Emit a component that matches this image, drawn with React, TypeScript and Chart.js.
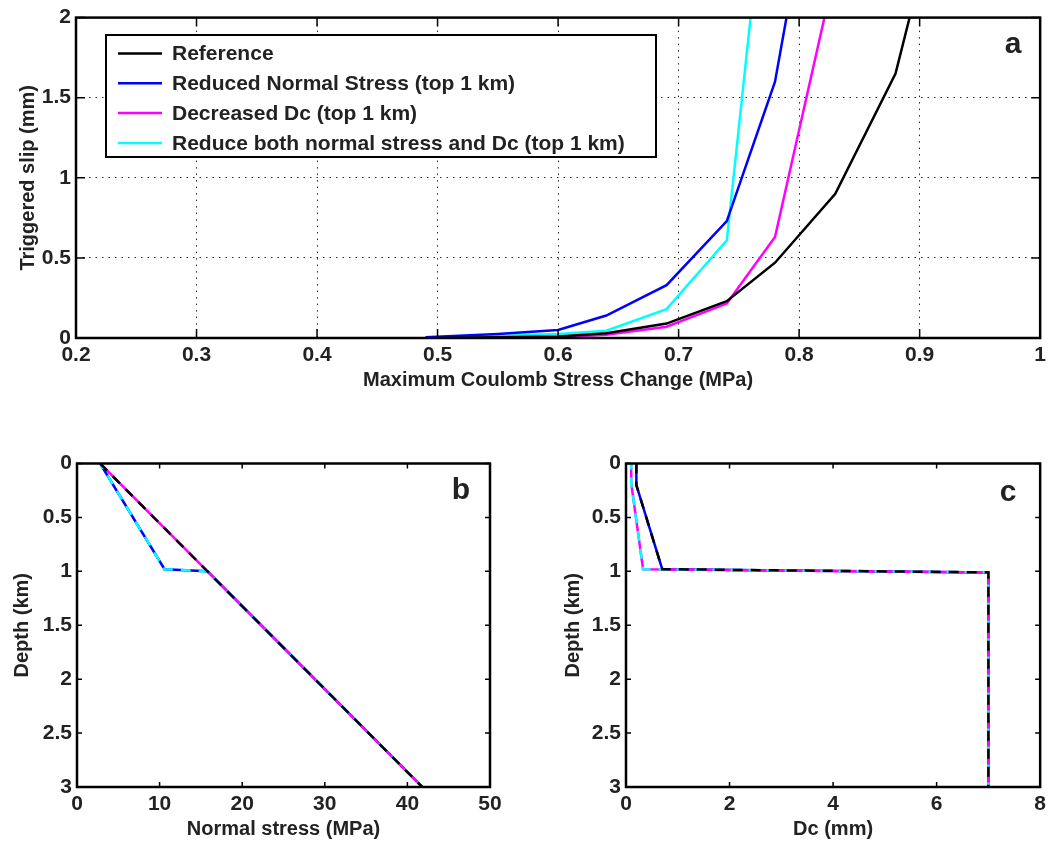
import React, { useEffect, useRef } from 'react';
import { Chart, registerables } from 'chart.js';

Chart.register(...registerables);

const FONT_FAMILY = '"Liberation Sans", Arial, Helvetica, sans-serif';
const TEXT_COLOR = '#222222';

// ---------- Series ----------
const seriesLabels = [
  'Reference',
  'Reduced Normal Stress (top 1 km)',
  'Decreased Dc (top 1 km)',
  'Reduce both normal stress and Dc (top 1 km)',
];
const seriesColors = ['#000000', '#0000ff', '#ff00ff', '#00ffff'];

// ---------- Panel a: triggered slip vs. maximum Coulomb stress change ----------
const refStressA = [0.5, 0.6, 0.64, 0.69, 0.74, 0.78, 0.83, 0.88, 0.9];
const refSlipA = [0, 0.01, 0.03, 0.09, 0.23, 0.47, 0.9, 1.65, 2.25];
const redNsStressA = [0.49, 0.55, 0.6, 0.64, 0.69, 0.74, 0.78, 0.83];
const redNsSlipA = [0.005, 0.025, 0.05, 0.14, 0.33, 0.73, 1.6, 3.7];
const decDcStressA = [0.5, 0.6, 0.64, 0.69, 0.74, 0.78, 0.83];
const decDcSlipA = [0, 0.005, 0.02, 0.07, 0.215, 0.63, 2.3];
const bothStressA = [0.5, 0.6, 0.64, 0.69, 0.74, 0.78];
const bothSlipA = [0, 0.025, 0.045, 0.18, 0.61, 3.43];

const aXTicks = [0.2, 0.3, 0.4, 0.5, 0.6, 0.7, 0.8, 0.9, 1];
const aXTickLabels = ['0.2', '0.3', '0.4', '0.5', '0.6', '0.7', '0.8', '0.9', '1'];
const aYTicks = [0, 0.5, 1, 1.5, 2];
const aYTickLabels = ['0', '0.5', '1', '1.5', '2'];

// ---------- Panel b: normal stress vs. depth ----------
const refDepthB = [0, 1, 3];
const refNormalB = [2.8, 15.8, 41.8];
const redNsDepthB = [0, 0.98, 1, 3];
const redNsNormalB = [2.8, 10.6, 15.8, 41.8];
const decDcDepthB = [0, 1, 3];
const decDcNormalB = [2.8, 15.8, 41.8];
const bothDepthB = [0, 0.98, 1, 3];
const bothNormalB = [2.8, 10.6, 15.8, 41.8];

const bXTicks = [0, 10, 20, 30, 40, 50];
const bXTickLabels = ['0', '10', '20', '30', '40', '50'];

// ---------- Panel c: Dc vs. depth ----------
const refDepthC = [0, 0.2, 0.98, 1.01, 3];
const refDcC = [0.2, 0.2, 0.7, 7, 7];
const redNsDepthC = [0, 0.2, 0.98, 1.01, 3];
const redNsDcC = [0.2, 0.2, 0.7, 7, 7];
const decDcDepthC = [0, 0.18, 0.98, 1.01, 3];
const decDcDcC = [0.1, 0.1, 0.33, 7, 7];
const bothDepthC = [0, 0.18, 0.98, 1.01, 3];
const bothDcC = [0.1, 0.1, 0.33, 7, 7];

const cXTicks = [0, 2, 4, 6, 8];
const cXTickLabels = ['0', '2', '4', '6', '8'];

const depthTicks = [0, 0.5, 1, 1.5, 2, 2.5, 3];
const depthTickLabels = ['0', '0.5', '1', '1.5', '2', '2.5', '3'];

const toPoints = (xs: number[], ys: number[]) => xs.map((x, i) => ({ x, y: ys[i] }));

// ---------- Plugins ----------
const framePlugin = {
  id: 'frame',
  afterDatasetsDraw(chart: any, _args: any, opts: any) {
    const { ctx, chartArea } = chart;
    const { left, right, top, bottom } = chartArea;
    const xs = chart.scales.x;
    const ys = chart.scales.y;
    const L = opts.tickLen || 6;
    ctx.save();
    ctx.strokeStyle = '#000';
    ctx.lineWidth = 1.5;
    ctx.beginPath();
    xs.ticks.forEach((t: any) => {
      const p = xs.getPixelForValue(t.value);
      ctx.moveTo(p, bottom);
      ctx.lineTo(p, bottom - L);
      ctx.moveTo(p, top);
      ctx.lineTo(p, top + L);
    });
    ys.ticks.forEach((t: any) => {
      const p = ys.getPixelForValue(t.value);
      ctx.moveTo(left, p);
      ctx.lineTo(left + L, p);
      ctx.moveTo(right, p);
      ctx.lineTo(right - L, p);
    });
    ctx.stroke();
    ctx.lineWidth = 2.5;
    ctx.strokeRect(left, top, right - left, bottom - top);
    if (opts.letter) {
      ctx.font = `bold 30px ${FONT_FAMILY}`;
      ctx.fillStyle = TEXT_COLOR;
      ctx.textAlign = 'center';
      ctx.textBaseline = 'middle';
      ctx.fillText(opts.letter, right - opts.letterDx, top + opts.letterDy);
    }
    ctx.restore();
  },
};

const boxLegendPlugin = {
  id: 'boxLegend',
  afterDraw(chart: any, _args: any, opts: any) {
    if (!opts || !opts.show) return;
    const { ctx } = chart;
    ctx.save();
    ctx.fillStyle = '#ffffff';
    ctx.fillRect(opts.x, opts.y, opts.w, opts.h);
    ctx.strokeStyle = '#000';
    ctx.lineWidth = 2;
    ctx.strokeRect(opts.x, opts.y, opts.w, opts.h);
    ctx.font = `bold 21px ${FONT_FAMILY}`;
    ctx.textAlign = 'left';
    ctx.textBaseline = 'middle';
    chart.data.datasets.forEach((ds: any, i: number) => {
      const cy = opts.firstY + i * opts.rowH;
      ctx.strokeStyle = ds.borderColor;
      ctx.lineWidth = 2.5;
      ctx.setLineDash([]);
      ctx.beginPath();
      ctx.moveTo(opts.lineX1, cy);
      ctx.lineTo(opts.lineX2, cy);
      ctx.stroke();
      ctx.fillStyle = TEXT_COLOR;
      ctx.fillText(ds.label, opts.textX, cy + 1);
    });
    ctx.restore();
  },
};

const tickFont = { family: FONT_FAMILY, size: 21, weight: 'bold' as const };
const titleFont = { family: FONT_FAMILY, size: 20, weight: 'bold' as const };

function axis(opts: {
  min: number;
  max: number;
  ticks: number[];
  labels: string[];
  title: string;
  size: number;
  titlePad: any;
  isX: boolean;
  reverse?: boolean;
  grid?: boolean;
}) {
  return {
    type: 'linear',
    position: opts.isX ? 'bottom' : 'left',
    min: opts.min,
    max: opts.max,
    reverse: !!opts.reverse,
    afterBuildTicks: (s: any) => {
      s.ticks = opts.ticks.map((v) => ({ value: v }));
    },
    afterFit: (s: any) => {
      if (opts.isX) s.height = opts.size;
      else s.width = opts.size;
    },
    grid: {
      display: !!opts.grid,
      drawTicks: false,
      color: 'rgba(0,0,0,0.85)',
      lineWidth: 1,
    },
    border: { display: false, dash: [1.5, 5] },
    ticks: {
      font: tickFont,
      color: TEXT_COLOR,
      padding: 5,
      maxRotation: 0,
      minRotation: 0,
      autoSkip: false,
      callback: (_v: any, i: number) => opts.labels[i],
    },
    title: {
      display: true,
      text: opts.title,
      font: titleFont,
      color: TEXT_COLOR,
      padding: opts.titlePad,
    },
  };
}

function lineDs(label: string, color: string, data: any[], extra: any = {}) {
  return {
    label,
    data,
    borderColor: color,
    backgroundColor: color,
    borderWidth: 2.5,
    pointRadius: 0,
    tension: 0,
    fill: false,
    ...extra,
  };
}

function useChart(build: () => any) {
  const ref = useRef<HTMLCanvasElement | null>(null);
  useEffect(() => {
    if (!ref.current) return;
    const chart = new Chart(ref.current, build());
    return () => chart.destroy();
  }, []);
  return ref;
}

function PanelA() {
  const ref = useChart(() => ({
    type: 'line',
    data: {
      datasets: [
        lineDs(seriesLabels[0], seriesColors[0], toPoints(refStressA, refSlipA)),
        lineDs(seriesLabels[1], seriesColors[1], toPoints(redNsStressA, redNsSlipA)),
        lineDs(seriesLabels[2], seriesColors[2], toPoints(decDcStressA, decDcSlipA)),
        lineDs(seriesLabels[3], seriesColors[3], toPoints(bothStressA, bothSlipA)),
      ],
    },
    options: {
      responsive: false,
      animation: false,
      layout: { padding: { left: 0, top: 15, right: 9, bottom: 0 } },
      scales: {
        x: axis({
          min: 0.2, max: 1, ticks: aXTicks, labels: aXTickLabels,
          title: 'Maximum Coulomb Stress Change (MPa)', size: 62,
          titlePad: { top: 0, bottom: 8 }, isX: true, grid: true,
        }),
        y: axis({
          min: 0, max: 2, ticks: aYTicks, labels: aYTickLabels,
          title: 'Triggered slip (mm)', size: 76,
          titlePad: { top: 16, bottom: 0 }, isX: false, grid: true,
        }),
      },
      plugins: {
        legend: { display: false },
        tooltip: { enabled: false },
        frame: { tickLen: 9, letter: 'a', letterDx: 27, letterDy: 27 },
        boxLegend: {
          show: true, x: 106, y: 35, w: 550, h: 122,
          firstY: 53.5, rowH: 29.8, lineX1: 118, lineX2: 162, textX: 172,
        },
      },
    },
    plugins: [framePlugin, boxLegendPlugin],
  }));
  return (
    <canvas
      ref={ref}
      width={1051}
      height={400}
      style={{ position: 'absolute', left: 0, top: 0, width: 1051, height: 400 }}
    />
  );
}

function depthPanel(
  canvasW: number,
  xMin: number,
  xMax: number,
  xTicks: number[],
  xLabels: string[],
  xTitle: string,
  yAxisW: number,
  yTitlePad: number,
  padRight: number,
  letter: string,
  letterDx: number,
  letterDy: number,
  sets: any[][],
) {
  const dash = [10, 8];
  return {
    type: 'line',
    data: {
      datasets: [
        lineDs(seriesLabels[0], seriesColors[0], sets[0], { borderDash: dash, order: 0 }),
        lineDs(seriesLabels[1], seriesColors[1], sets[1], { order: 3 }),
        lineDs(seriesLabels[2], seriesColors[2], sets[2], { order: 2 }),
        lineDs(seriesLabels[3], seriesColors[3], sets[3], { borderDash: dash, borderDashOffset: 4, order: 1 }),
      ],
    },
    options: {
      responsive: false,
      animation: false,
      layout: { padding: { left: 0, top: 23.5, right: padRight, bottom: 0 } },
      scales: {
        x: axis({
          min: xMin, max: xMax, ticks: xTicks, labels: xLabels,
          title: xTitle, size: 55, titlePad: { top: 0, bottom: 1 }, isX: true,
        }),
        y: axis({
          min: 0, max: 3, ticks: depthTicks, labels: depthTickLabels,
          title: 'Depth (km)', size: yAxisW, titlePad: { top: yTitlePad, bottom: 0 },
          isX: false, reverse: true,
        }),
      },
      plugins: {
        legend: { display: false },
        tooltip: { enabled: false },
        frame: { tickLen: 5, letter, letterDx, letterDy },
        boxLegend: { show: false },
      },
    },
    plugins: [framePlugin, boxLegendPlugin],
  };
}

function PanelB() {
  const ref = useChart(() =>
    depthPanel(525, 0, 50, bXTicks, bXTickLabels, 'Normal stress (MPa)', 77, 10, 35, 'b', 29, 27, [
      toPoints(refNormalB, refDepthB),
      toPoints(redNsNormalB, redNsDepthB),
      toPoints(decDcNormalB, decDcDepthB),
      toPoints(bothNormalB, bothDepthB),
    ]),
  );
  return (
    <canvas
      ref={ref}
      width={525}
      height={402}
      style={{ position: 'absolute', left: 0, top: 440, width: 525, height: 402 }}
    />
  );
}

function PanelC() {
  const ref = useChart(() =>
    depthPanel(526, 0, 8, cXTicks, cXTickLabels, 'Dc (mm)', 101, 36, 9, 'c', 32, 29, [
      toPoints(refDcC, refDepthC),
      toPoints(redNsDcC, redNsDepthC),
      toPoints(decDcDcC, decDcDepthC),
      toPoints(bothDcC, bothDepthC),
    ]),
  );
  return (
    <canvas
      ref={ref}
      width={526}
      height={402}
      style={{ position: 'absolute', left: 525, top: 440, width: 526, height: 402 }}
    />
  );
}

export default function App() {
  return (
    <div
      style={{
        position: 'fixed',
        left: 0,
        top: 0,
        width: 1051,
        height: 842,
        background: '#ffffff',
        overflow: 'hidden',
      }}
    >
      <PanelA />
      <PanelB />
      <PanelC />
    </div>
  );
}
